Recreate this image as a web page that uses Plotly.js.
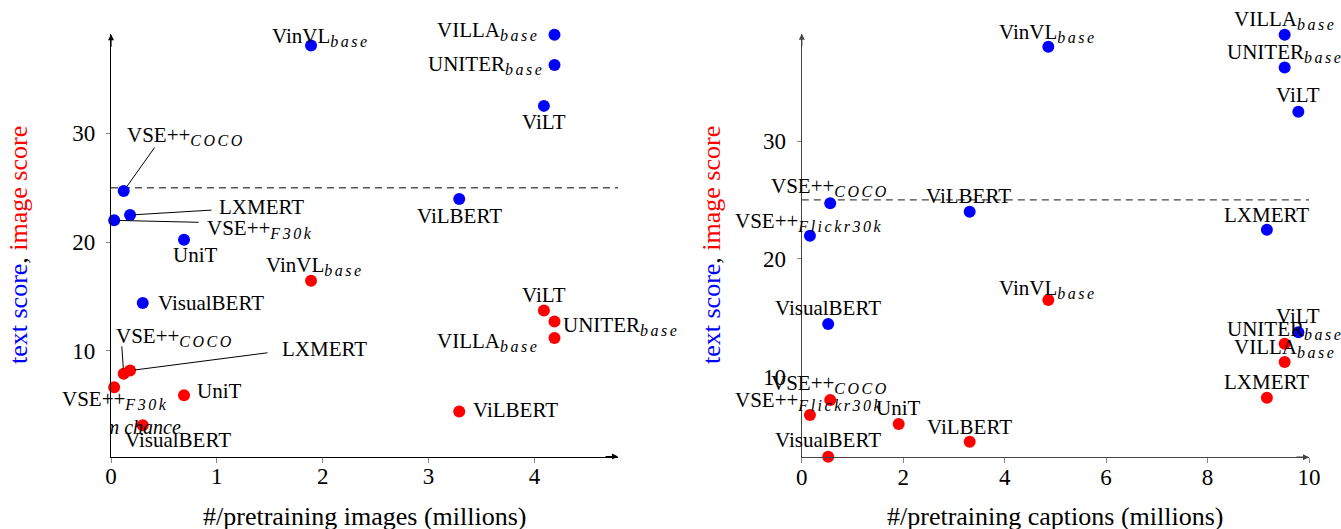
<!DOCTYPE html>
<html><head><meta charset="utf-8">
<script src="https://cdn.plot.ly/plotly-3.0.1.min.js"></script>
<style>html,body{margin:0;padding:0;background:#fff}#chart{width:1341px;height:529px}</style>
</head><body><div id="chart"></div>
<script>
// ---------- DATA ----------
// Left chart: #/pretraining images (millions)
const leftModels    = ["VSE++", "LXMERT", "VSE++", "UniT", "VisualBERT", "VinVL", "ViLBERT", "ViLT", "UNITER", "VILLA"];
const leftModelSubs = ["COCO", "", "F30k", "", "", "base", "", "", "base", "base"];
const leftImages = [0.12, 0.18, 0.03, 0.69, 0.30, 1.89, 3.29, 4.09, 4.19, 4.19];
const leftTextScore  = [24.70, 22.49, 22.00, 20.22, 14.40, 38.07, 23.96, 32.52, 36.27, 39.05];
const leftImageScore = [7.89, 8.19, 6.66, 5.93, 3.17, 16.45, 4.43, 13.72, 12.70, 11.18];

// Right chart: #/pretraining captions (millions)
const rightModels    = ["VSE++", "VSE++", "ViLBERT", "LXMERT", "VisualBERT", "VinVL", "ViLT", "UNITER", "VILLA", "UniT"];
const rightModelSubs = ["COCO", "Flickr30k", "", "", "", "base", "", "base", "base", ""];
const rightCaptions = [0.56, 0.16, 3.31, 9.17, 0.52, 4.86, 9.79, 9.52, 9.52, 1.91];
const rightTextScore  = [24.71, 21.96, 24.00, 22.46, 14.47, 38.01, 32.49, 36.24, 39.02, null];
const rightImageScore = [8.01, 6.74, 4.47, 8.20, 3.20, 16.50, 13.76, 12.78, 11.24, 5.98];

const chanceLevel = 25;
const chanceLabel = "random chance";

const yTicks = [10, 20, 30];
const xTicksLeft = [0, 1, 2, 3, 4];
const xTicksRight = [0, 2, 4, 6, 8, 10];

// ---------- STYLE / PLACEMENT ----------
const BLUE = "#0000ff", RED = "#ff0000";
const FONT = "Liberation Serif";
const LABEL_SIZE = 21;
const label = (m, s) => s ? m + '<sub><span style="font-size:16px;letter-spacing:2.5px"><i>' + s + '</i></span></sub>' : m;
// label placement: [xanchor, dx, dy]  (pixels, dy positive = down, relative to marker)
const leftTextPlace = [["left",1,-59],["left",87,-8],["left",91,5],["center",11,15],["left",13,0],
                       ["left",-41,-13],["center",0,17],["center",0,16],["right",-8,-4],["right",-13,-8]];
const leftImgPlace  = [["left",-10,-41],["left",150,-22],["left",-54,9],["left",11,-4],["left",-20,15],
                       ["left",-47,-19],["left",12,-2],["center",0,-15],["left",7,0],["right",-13,0]];
// leader lines [dx, dy] of the tail relative to marker, null = none
const leftTextLeader = [[32,-45],[83,-5],[86,2],null,null,null,null,null,null,null];
const leftImgLeader  = [[-2,-29],[139,-18],null,null,null,null,null,null,null,null];
const rightTextPlace = [["center",0,-20],["center",-1,-18],["center",-1,-16],["center",0,-15],["center",0,-16],
                        ["center",0,-18],["center",0,-17],["center",0,-18],["center",0,-19],null];
const rightImgPlace  = [["center",0,-20],["center",-1,-18],["center",0,-15],["center",0,-16],["center",0,-17],
                        ["center",0,-15],["center",0,-16],["center",0,-18],["center",0,-18],["center",0,-16]];
const rightImgColors = rightModels.map(m => m === "ViLT" ? BLUE : RED);

const W = 1341, H = 529;
const dom = (a, b) => [a / W, b / W];

function axisX(domain, ticks, range, anchor, lineColor) {
  return {domain: domain, range: range, anchor: anchor, tickvals: ticks, ticktext: ticks.map(String),
    showgrid: false, zeroline: false, showline: true, linecolor: lineColor, linewidth: 1.2,
    ticks: "outside", ticklen: 5, tickcolor: "#888", tickwidth: 1, ticklabelstandoff: -6,
    tickfont: {family: FONT, size: 23, color: "#000"}, fixedrange: true};
}
function axisY(domainPx, range, anchor, lineColor) {
  return {domain: [(H - domainPx[1]) / H, (H - domainPx[0]) / H], range: range, anchor: anchor,
    tickvals: yTicks, ticktext: yTicks.map(String),
    showgrid: false, zeroline: false, showline: true, linecolor: lineColor, linewidth: 1.2,
    ticks: "outside", ticklen: 4, tickcolor: "#888", tickwidth: 1, ticklabelstandoff: 6,
    tickfont: {family: FONT, size: 23, color: "#000"}, fixedrange: true};
}

const traces = [
  {x: leftImages, y: leftTextScore, xaxis: "x", yaxis: "y", mode: "markers", type: "scatter", cliponaxis: false,
   marker: {color: BLUE, size: 12}, hoverinfo: "skip"},
  {x: leftImages, y: leftImageScore, xaxis: "x", yaxis: "y", mode: "markers", type: "scatter", cliponaxis: false,
   marker: {color: RED, size: 12}, hoverinfo: "skip"},
  {x: [0.66], y: [2.8], xaxis: "x", yaxis: "y", mode: "text", type: "scatter", cliponaxis: true,
   text: ["<i>" + chanceLabel + "</i>"], textposition: "middle left",
   textfont: {family: FONT, size: 20, color: "#000"}, hoverinfo: "skip"},
  {x: rightCaptions, y: rightImageScore, xaxis: "x2", yaxis: "y2", mode: "markers", type: "scatter", cliponaxis: false,
   marker: {color: rightImgColors, size: 12}, hoverinfo: "skip"},
  {x: rightCaptions, y: rightTextScore, xaxis: "x2", yaxis: "y2", mode: "markers", type: "scatter", cliponaxis: false,
   marker: {color: BLUE, size: 12}, hoverinfo: "skip"}
];

const annotations = [];
function addLabels(xr, yr, xs, ys, names, subs, place, leaders) {
  xs.forEach((x, i) => {
    if (ys[i] == null || !place[i]) return;
    const [anc, dx, dy] = place[i];
    const hasSub = !!subs[i];
    annotations.push({xref: xr, yref: yr, x: x, y: ys[i], text: label(names[i], subs[i]), showarrow: false,
      xanchor: anc, yanchor: "middle", xshift: dx, yshift: -(dy + (hasSub ? 4 : 0)),
      font: {family: FONT, size: LABEL_SIZE, color: "#000"}});
    if (leaders && leaders[i]) {
      annotations.push({xref: xr, yref: yr, x: x, y: ys[i], text: "", showarrow: true,
        ax: leaders[i][0], ay: leaders[i][1], arrowhead: 0, arrowwidth: 1, arrowcolor: "#000", standoff: 5});
    }
  });
}
addLabels("x", "y", leftImages, leftTextScore, leftModels, leftModelSubs, leftTextPlace, leftTextLeader);
addLabels("x", "y", leftImages, leftImageScore, leftModels, leftModelSubs, leftImgPlace, leftImgLeader);
addLabels("x2", "y2", rightCaptions, rightTextScore, rightModels, rightModelSubs, rightTextPlace, null);
addLabels("x2", "y2", rightCaptions, rightImageScore, rightModels, rightModelSubs, rightImgPlace, null);

// axis arrowheads
[["x", "y", "#000"], ["x2", "y2", "#444"]].forEach(([xa, ya, c]) => {
  annotations.push({xref: xa + " domain", yref: ya + " domain", x: 1, y: 0, ax: -14, ay: 0, text: "",
    showarrow: true, arrowhead: 2, arrowsize: 1, arrowwidth: 1.2, arrowcolor: c});
  annotations.push({xref: xa + " domain", yref: ya + " domain", x: 0, y: 1, ax: 0, ay: 14, text: "",
    showarrow: true, arrowhead: 2, arrowsize: 1, arrowwidth: 1.2, arrowcolor: c});
});

// axis titles
const yTitle = '<span style="color:#0000ff">text score</span>, <span style="color:#ff0000">image score</span>';
const titleFont = {family: FONT, size: 26, color: "#000"};
annotations.push({xref: "paper", yref: "paper", x: 18 / W, y: (H - 245) / H, text: yTitle, textangle: -90,
  showarrow: false, xanchor: "center", yanchor: "middle", font: titleFont});
annotations.push({xref: "paper", yref: "paper", x: 711 / W, y: (H - 245) / H, text: yTitle, textangle: -90,
  showarrow: false, xanchor: "center", yanchor: "middle", font: titleFont});
annotations.push({xref: "paper", yref: "paper", x: 365 / W, y: (H - 516) / H, text: "#/pretraining images (millions)",
  showarrow: false, xanchor: "center", yanchor: "middle", font: titleFont});
annotations.push({xref: "paper", yref: "paper", x: 1055 / W, y: (H - 516) / H, text: "#/pretraining captions (millions)",
  showarrow: false, xanchor: "center", yanchor: "middle", font: titleFont});

const shapes = [
  {type: "line", xref: "x domain", yref: "y", x0: 0, x1: 1, y0: chanceLevel, y1: chanceLevel,
   line: {color: "#555", width: 1.5, dash: "7px,5px"}, layer: "below"},
  {type: "line", xref: "x2 domain", yref: "y2", x0: 0, x1: 1, y0: chanceLevel, y1: chanceLevel,
   line: {color: "#444", width: 1.2, dash: "7px,5px"}, layer: "below"}
];

// left: 30 at 133.3px, 10.88 px/unit ; right: 20 at 258.8px, 11.78 px/unit
const leftTop = 39.1, leftBot = 0.29, rightTop = 39.1, rightBot = 3.16;
const layout = {
  width: W, height: H, margin: {l: 0, r: 0, t: 0, b: 0}, paper_bgcolor: "#fff", plot_bgcolor: "rgba(0,0,0,0)",
  showlegend: false, font: {family: FONT, color: "#000"},
  xaxis: axisX(dom(111, 618), xTicksLeft, [0, 4.79], "y", "#000"),
  yaxis: axisY([133.3 - (leftTop - 30) * 10.88, 133.3 + (30 - leftBot) * 10.88], [leftBot, leftTop], "x", "#000"),
  xaxis2: axisX(dom(801.8, 1309), xTicksRight, [0, 10], "y2", "#444"),
  yaxis2: axisY([258.8 - (rightTop - 20) * 11.78, 258.8 + (20 - rightBot) * 11.78], [rightBot, rightTop], "x2", "#444"),
  annotations: annotations, shapes: shapes
};

Plotly.newPlot("chart", traces, layout, {staticPlot: true, displayModeBar: false});
</script></body></html>
